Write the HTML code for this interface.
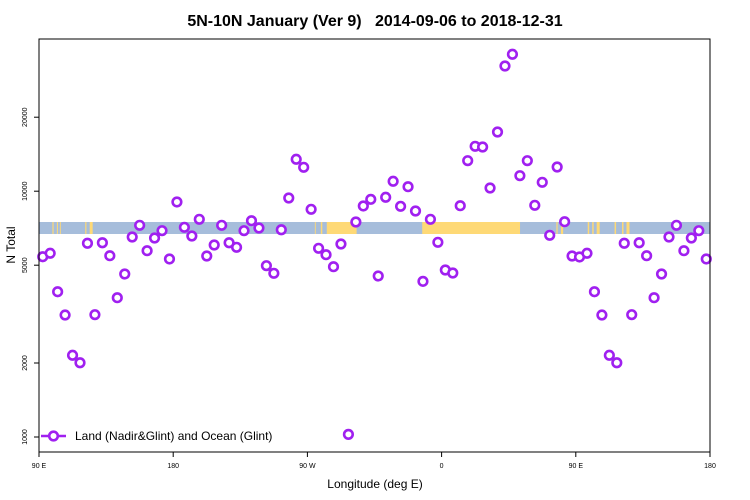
<!DOCTYPE html>
<html><head><meta charset="utf-8"><style>
body{margin:0;background:#fff;}
svg{display:block;font-family:"Liberation Sans",sans-serif;}
</style></head><body>
<svg id="chart" width="750" height="500">
<text x="375" y="26" text-anchor="middle" font-size="16" font-weight="bold" style="white-space:pre">5N-10N January (Ver 9)   2014-09-06 to 2018-12-31</text>
<g id="band"></g>
<g id="axes"></g>
<g id="points"></g>
<rect x="39" y="39" width="671" height="413" fill="none" stroke="#000" stroke-width="1"/>
<text x="375" y="488" text-anchor="middle" font-size="12">Longitude (deg E)</text>
<text transform="translate(15,245) rotate(-90)" text-anchor="middle" font-size="12">N Total</text>
<g>
<line x1="41" y1="436" x2="66" y2="436" stroke="#a020f0" stroke-width="2.5"/>
<circle cx="53.5" cy="436" r="4.3" fill="#fff" stroke="#a020f0" stroke-width="2.6"/>
<text x="75" y="440" font-size="12">Land (Nadir&amp;Glint) and Ocean (Glint)</text>
</g>
</svg>
<script>
// values for lon 92.5, 97.5, ... 537.5 (5-degree bins)
const values = [5413,5590,3900,3135,2150,2005,6140,3145,6170,5465,3687,4605,6512,7265,5727,6450,6908,5300,9040,7130,6572,7686,5450,6040,7265,6170,5913,6908,7586,7085,4977,4634,6970,9383,13485,12510,8440,5857,5516,4930,6098,1025,7493,8708,9268,4519,9446,10974,8680,10430,8307,4298,7686,6196,4779,4648,8730,13310,15230,15130,10305,17415,32310,36060,11565,13310,8763,10870,6616,12545,7514,5450,5400,5590,3900,3135,2150,2005,6140,3145,6170,5465,3687,4605,6512,7265,5727,6450,6908,5300];
const yTicks = [1000,2000,5000,10000,20000];
const xTickPos = [90,180,270,360,450,540];
const xTickLabels = ["90 E","180","90 W","0","90 E","180"];
const landSegments = [[99,99.8],[102,102.7],[104,104.6],[121,121.8],[124,126],[275,275.6],[279,280],[283,303],[347,412.6],[437,437.8],[440,441.5],[458,459],[461,462],[464,466],[476,477],[481,482],[484,486]];

const NS="http://www.w3.org/2000/svg";
const X0=39,X1=710,Y0=39,Y1=452;
const xs=v=>X0+(v-90)/450*(X1-X0);
const ys=v=>437-(Math.log10(v)-3)*245.8;
function mk(t,a,p){const e=document.createElementNS(NS,t);for(const k in a)e.setAttribute(k,a[k]);p.appendChild(e);return e;}

const band=document.getElementById('band');
const bg=mk('rect',{x:X0,y:222,width:X1-X0,height:12,fill:'#a6bddb'},band);


landSegments.forEach(s=>{
  const r=mk('rect',{x:xs(s[0]),y:222,width:xs(s[1])-xs(s[0]),height:12,fill:'#fed976'},band);
  
  
});

const axes=document.getElementById('axes');
yTicks.forEach(v=>{
  const y=ys(v);
  const l=mk('line',{x1:X0-5,x2:X0,y1:y,y2:y,stroke:'#000'},axes);
  
  
  const t=mk('text',{transform:`translate(27,${y}) rotate(-90)`,'text-anchor':'middle','font-size':'7'},axes);
  t.textContent=v;
  
  
});
xTickPos.forEach((v,i)=>{
  const x=xs(v);
  const l=mk('line',{x1:x,x2:x,y1:Y1,y2:Y1+5,stroke:'#000'},axes);
  
  
  const t=mk('text',{x:x,y:468,'text-anchor':'middle','font-size':'7'},axes);
  t.textContent=xTickLabels[i];
  
  
});

const pts=document.getElementById('points');
values.forEach((v,i)=>{
  const c=mk('circle',{cx:xs(92.5+5*i),cy:ys(v),r:4.3,fill:'#fff',stroke:'#a020f0','stroke-width':2.6},pts);
  
  
});
</script>
</body></html>
